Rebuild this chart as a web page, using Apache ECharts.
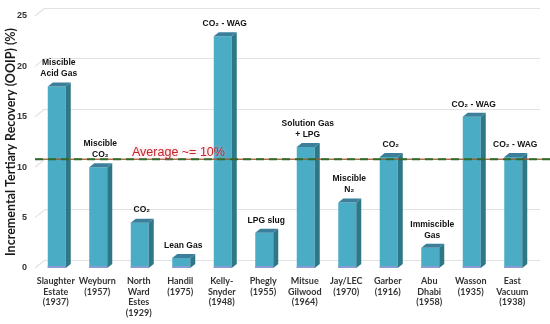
<!DOCTYPE html>
<html><head><meta charset="utf-8">
<script src="https://cdn.jsdelivr.net/npm/echarts@6/dist/echarts.min.js"></script>
<style>html,body{margin:0;padding:0;background:#fff}#c{width:550px;height:324px}</style>
</head><body><div id="c"></div>
<script>
var categories = ['Slaughter\nEstate\n(1937)','Weyburn\n(1957)','North\nWard\nEstes\n(1929)','Handil\n(1975)','Kelly-\nSnyder\n(1948)','Phegly\n(1955)','Mitsue\nGilwood\n(1964)','Jay/LEC\n(1970)','Garber\n(1916)','Abu\nDhabi\n(1958)','Wasson\n(1935)','East\nVacuum\n(1938)'];
var recovery = [18, 10, 4.5, 1, 23, 3.5, 12, 6.5, 11, 2, 15, 11];
var notes = ['Miscible\nAcid Gas','Miscible\nCO₂','CO₂','Lean Gas','CO₂ - WAG','LPG slug','Solution Gas\n+ LPG','Miscible\nN₂','CO₂','Immiscible\nGas','CO₂ - WAG','CO₂ - WAG'];
var yTicks = [0, 5, 10, 15, 20, 25];
var average = 10;

var chart = echarts.init(document.getElementById('c'));
var narrow = "'Liberation Sans Narrow','Liberation Sans',Arial,sans-serif";
chart.setOption({
  animation: false,
  title: {
    text: 'Average ~= 10%', left: 127, top: 141, z: 20,
    textStyle: {fontFamily: narrow, fontSize: 12.5, fontWeight: 'normal', color: '#c0282a',
      textShadowColor: 'rgba(255,170,190,0.9)', textShadowBlur: 5}
  },
  grid: [
    {left: 35, right: 17, top: 16, bottom: 56, outerBoundsMode: 'none', containLabel: false},
    {left: 45, right: 10, top: 8, bottom: 64, outerBoundsMode: 'none', containLabel: false},
    {left: 35, right: 0, top: 8, bottom: 64, outerBoundsMode: 'none', containLabel: false}
  ],
  xAxis: [
    {type: 'category', gridIndex: 0, data: categories, boundaryGap: true,
     axisLine: {show: false}, axisTick: {show: false},
     axisLabel: {interval: 0, margin: 8, fontFamily: 'Lato', fontWeight: 'bold', fontSize: 9, color: '#333', lineHeight: 10.5}},
    {type: 'value', gridIndex: 1, min: 0, max: 1, show: false},
    {type: 'value', gridIndex: 2, min: 0, max: 1, show: false}
  ],
  yAxis: [
    {type: 'value', gridIndex: 0, min: 0, max: 25, interval: 5,
     name: 'Incremental Tertiary Recovery (OOIP) (%)', nameLocation: 'middle', nameGap: 18, nameMoveOverlap: false,
     nameTextStyle: {fontFamily: 'Lato', fontWeight: 'bold', fontSize: 12.5, color: '#1a1a1a'},
     axisLine: {show: false}, axisTick: {show: false}, splitLine: {show: false},
     axisLabel: {margin: 8, fontFamily: 'Liberation Sans', fontWeight: 'bold', fontSize: 9, color: '#333'}},
    {type: 'value', gridIndex: 1, min: 0, max: 25, interval: 5,
     axisLine: {show: false}, axisTick: {show: false}, axisLabel: {show: false},
     splitLine: {show: true, lineStyle: {color: '#e2e2e2', width: 1.2}}},
    {type: 'value', gridIndex: 2, min: 0, max: 25, show: false}
  ],
  series: [
    {type: 'custom', xAxisIndex: 1, yAxisIndex: 1, silent: true, z: 1,
     data: yTicks,
     renderItem: function (params, api) {
       var p = api.coord([0, api.value(0)]);
       return {type: 'line', shape: {x1: p[0], y1: p[1], x2: p[0] - 10, y2: p[1] + 8},
               style: {stroke: '#e2e2e2', lineWidth: 1.2}};
     }},
    {type: 'custom', xAxisIndex: 0, yAxisIndex: 0, silent: true, z: 3,
     data: recovery,
     renderItem: function (params, api) {
       var i = api.value(0), v = api.value(1);
       var t = api.coord([i, v]), b = api.coord([i, 0]);
       var cx = t[0], top = t[1], base = b[1];
       var l = cx - 8, r = cx + 10, dx = 5, dy = 4;
       return {type: 'group', children: [
         {type: 'rect', shape: {x: l, y: top, width: r - l, height: base - top}, style: {fill: '#4bacc6'}},
         {type: 'rect', shape: {x: l, y: base - 2, width: r - l, height: 2}, style: {fill: '#8b9bd3'}},
         {type: 'polygon', shape: {points: [[r, top], [r + dx, top - dy], [r + dx, base - dy], [r, base]]}, style: {fill: '#2e7787'}},
         {type: 'polygon', shape: {points: [[l, top], [l + dx, top - dy], [r + dx, top - dy], [r, top]]}, style: {fill: '#3b7f9b'}},
         {type: 'text', style: {text: notes[params.dataIndex], x: cx + 3, y: top - 7,
           textAlign: 'center', textVerticalAlign: 'bottom', fontFamily: narrow, fontWeight: 'bold',
           fontSize: 8.5, lineHeight: 11, fill: '#111'}}
       ]};
     }},
    {type: 'line', xAxisIndex: 2, yAxisIndex: 2, silent: true, z: 5, symbol: 'none',
     data: [[0, average], [1, average]],
     lineStyle: {color: '#a0522d', width: 1.5, type: 'solid', opacity: 0.8}},
    {type: 'line', xAxisIndex: 2, yAxisIndex: 2, silent: true, z: 6, symbol: 'none',
     data: [[0, average], [1, average]],
     lineStyle: {color: '#2f6b2a', width: 2, type: [8, 5]}}
  ]
});
</script></body></html>
